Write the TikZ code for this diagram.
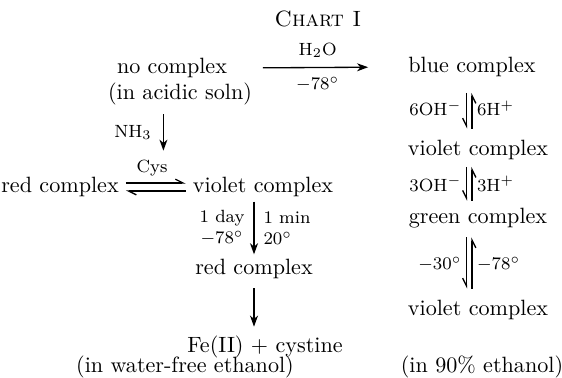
\documentclass[tikz,border=0pt]{standalone}
\usetikzlibrary{arrows.meta}
\begin{document}
\begin{tikzpicture}[%
x=0.452pt, y=-0.452pt,
>={Stealth[length=5pt,width=3.6pt,inset=1.5pt]},
txt/.style={inner sep=1pt, font=\normalsize},
cond/.style={inner sep=1pt, font=\footnotesize},
rxn/.style={->, line width=0.6pt},
fwd/.style={-{Straight Barb[left,length=3.5pt,width=3.5pt]}, line width=0.6pt},
bwd/.style={-{Straight Barb[right,length=3.5pt,width=3.5pt]}, line width=0.6pt}
]
\useasboundingbox (0,0) rectangle (562,377);
\node[txt] (title) at (318,19) {\textsc{Chart I}};
% left column
\node[txt] (nocx) at (172,68) {no complex};
\node[txt] (acid) at (180,94) {(in acidic soln)};
\node[txt] (red1) at (60,187) {red complex};
\node[cond] (cys) at (152,168) {Cys};
\node[txt] (vio0) at (263,187) {violet complex};
\node[txt] (red2) at (254,269) {red complex};
\node[txt] (fe) at (265,347) {Fe(II) $+$ cystine};
\node[txt] (wfe) at (185,367) {(in water-free ethanol)};
% right column
\node[txt] (blue) at (472,67) {blue complex};
\node[txt] (vio1) at (478,150) {violet complex};
\node[txt] (green) at (478,218) {green complex};
\node[txt] (vio2) at (478,310) {violet complex};
\node[txt] (eth) at (482,367) {(in 90\% ethanol)};
% arrows
\draw[rxn, shorten <=15pt, shorten >=17pt] (nocx.east) -- (blue.west)
  node[midway, above=3pt, cond] {H$_2$O}
  node[midway, below=3pt, cond] {$-78^\circ$};
\draw[rxn, shorten <=3pt, shorten >=3pt] ([xshift=-7.5pt]acid.south) -- ([xshift=-7.5pt]acid.south |- cys.north)
  node[midway, left=4pt, cond] {NH$_3$};
\draw[fwd, shorten <=2pt, shorten >=2pt] ([yshift=1.8pt]red1.east) -- ([yshift=1.8pt]vio0.west);
\draw[fwd, shorten <=2pt, shorten >=2pt] ([yshift=-1.8pt]vio0.west) -- ([yshift=-1.8pt]red1.east);
\draw[rxn, shorten <=1pt, shorten >=1pt] (vio0.south -| red2.north) -- (red2.north)
  node[midway, left=3pt, cond, align=center] {1 day\\$-78^\circ$}
  node[midway, right=3pt, cond, align=left] {1 min\\$20^\circ$};
\draw[rxn, shorten <=3pt, shorten >=3pt] (red2.south) -- (red2.south |- fe.north);
% equilibria
\draw[bwd, shorten <=6pt, shorten >=4pt] ([xshift=-2.5pt]blue.south) -- ([xshift=-2.5pt]blue.south |- vio1.north)
  node[midway, left=1pt, cond] {6OH$^-$};
\draw[bwd, shorten <=4pt, shorten >=6pt] ([xshift=0pt]blue.south |- vio1.north) -- ([xshift=0pt]blue.south)
  node[midway, right=1pt, cond] {6H$^+$};
\draw[bwd, shorten <=2pt, shorten >=2pt] ([xshift=-2.5pt]blue.south |- vio1.south) -- ([xshift=-2.5pt]blue.south |- green.north)
  node[midway, left=1pt, cond] {3OH$^-$};
\draw[bwd, shorten <=2pt, shorten >=2pt] ([xshift=0pt]blue.south |- green.north) -- ([xshift=0pt]blue.south |- vio1.south)
  node[midway, right=1pt, cond] {3H$^+$};
\draw[bwd, shorten <=3pt, shorten >=4pt] ([xshift=-2.5pt]blue.south |- green.south) -- ([xshift=-2.5pt]blue.south |- vio2.north)
  node[midway, left=1pt, cond] {$-30^\circ$};
\draw[bwd, shorten <=4pt, shorten >=3pt] ([xshift=0pt]blue.south |- vio2.north) -- ([xshift=0pt]blue.south |- green.south)
  node[midway, right=1pt, cond] {$-78^\circ$};
\end{tikzpicture}
\end{document}
